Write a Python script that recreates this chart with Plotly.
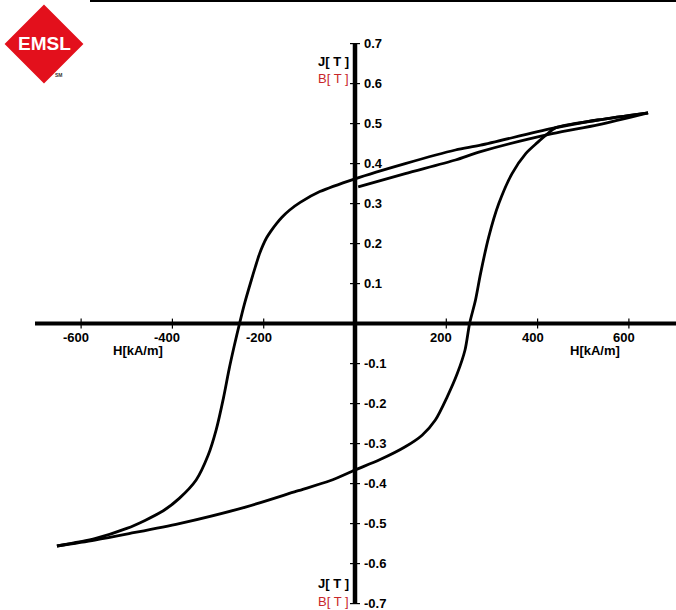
import plotly.graph_objects as go

# ---- data ----
H_initial = [7, 110, 220, 275, 432, 532, 642]
J_initial = [0.342, 0.375, 0.409, 0.430, 0.475, 0.497, 0.527]

H_desc = [642, 532, 432, 275, 220, 110, 0, -77, -120, -143, -160, -172, -185, -194, -202, -209, -218, -227,
          -242, -253, -265, -276, -288, -304, -322, -348, -385, -420, -460, -500, -568, -653]
J_desc = [0.527, 0.509, 0.488, 0.446, 0.434, 0.400, 0.362, 0.330, 0.303, 0.284, 0.266, 0.250, 0.230, 0.214,
          0.195, 0.175, 0.143, 0.109, 0.050, 0.0, -0.058, -0.115, -0.185, -0.265, -0.330, -0.391, -0.437,
          -0.468, -0.492, -0.512, -0.537, -0.556]

H_asc = [-653, -570, -495, -385, -238, -128, -55, 0, 55, 110, 147, 176, 202, 224, 241, 251,
         264, 275, 293, 315, 344, 374, 400, 420, 440, 532, 642]
J_asc = [-0.556, -0.541, -0.525, -0.500, -0.458, -0.419, -0.393, -0.366, -0.340, -0.308, -0.279, -0.241,
         -0.183, -0.125, -0.066, 0.0, 0.059, 0.125, 0.217, 0.300, 0.375, 0.425, 0.453, 0.473, 0.490, 0.509, 0.527]

x_ticks = [-600, -400, -200, 200, 400, 600]
x_tick_labels = ["-600", "-400", "-200", "200", "400", "600"]
y_ticks = [0.7, 0.6, 0.5, 0.4, 0.3, 0.2, 0.1, -0.1, -0.2, -0.3, -0.4, -0.5, -0.6, -0.7]
y_tick_labels = ["0.7", "0.6", "0.5", "0.4", "0.3", "0.2", "0.1",
                 "-0.1", "-0.2", "-0.3", "-0.4", "-0.5", "-0.6", "-0.7"]

W, Hgt = 676, 610
XMIN, XMAX = -777.7, 703.2
YMIN, YMAX = -0.716, 0.809
px_per_x = W / (XMAX - XMIN)
px_per_y = Hgt / (YMAX - YMIN)

FONT = "Arial, Liberation Sans, sans-serif"

fig = go.Figure()
for hx, jy in [(H_initial, J_initial), (H_desc, J_desc), (H_asc, J_asc)]:
    fig.add_trace(go.Scatter(x=hx, y=jy, mode="lines",
                             line=dict(color="black", width=2.8, shape="spline", smoothing=0.8),
                             hoverinfo="skip", showlegend=False))

shapes = []
# axes
shapes.append(dict(type="line", xref="x", yref="y", x0=-701, x1=XMAX, y0=0, y1=0,
                   line=dict(color="black", width=4)))
shapes.append(dict(type="line", xref="x", yref="y", x0=0, x1=0, y0=-0.7, y1=0.7,
                   line=dict(color="black", width=4.5)))
# ticks
tx = 5 / px_per_x
ty = 5 / px_per_y
for v in x_ticks:
    shapes.append(dict(type="line", xref="x", yref="y", x0=v, x1=v, y0=-ty, y1=ty,
                       line=dict(color="black", width=1.2)))
for v in y_ticks:
    shapes.append(dict(type="line", xref="x", yref="y", x0=-tx, x1=tx, y0=v, y1=v,
                       line=dict(color="black", width=1.2)))
# top rule
shapes.append(dict(type="line", xref="paper", yref="paper", x0=90 / W, x1=1,
                   y0=1 - 1 / Hgt, y1=1 - 1 / Hgt, line=dict(color="black", width=2)))

# logo diamond (paper coords)
def P(px, py):
    return f"{px / W:.5f},{1 - py / Hgt:.5f}"
cx, cy, r = 44, 44, 38
path = f"M {P(cx, cy - r)} L {P(cx + r, cy)} L {P(cx, cy + r)} L {P(cx - r, cy)} Z"
shapes.append(dict(type="path", xref="paper", yref="paper", path=path,
                   fillcolor="#e3101c", line=dict(color="#e3101c", width=2)))

annotations = []
for v, t in zip(x_ticks, x_tick_labels):
    annotations.append(dict(x=v, y=0, xref="x", yref="y", text=t, showarrow=False,
                            xanchor="center", yanchor="middle", xshift=-5, yshift=-14,
                            font=dict(family=FONT, size=13, color="black", weight="bold")))
for v, t in zip(y_ticks, y_tick_labels):
    annotations.append(dict(x=0, y=v, xref="x", yref="y", text=t, showarrow=False,
                            xanchor="left", yanchor="middle", xshift=7,
                            font=dict(family=FONT, size=13, color="black", weight="bold")))

for hx in [138, 595]:
    annotations.append(dict(x=hx / W, y=1 - 351 / Hgt, xref="paper", yref="paper",
                            text="H[kA/m]", showarrow=False, xanchor="center", yanchor="middle",
                            font=dict(family=FONT, size=13, color="black", weight="bold")))
for jy, by in [(62, 79), (583, 601)]:
    annotations.append(dict(x=351 / W, y=1 - jy / Hgt, xref="paper", yref="paper",
                            text="J[ T ]", showarrow=False, xanchor="right", yanchor="middle",
                            font=dict(family=FONT, size=13, color="black", weight="bold")))
    annotations.append(dict(x=351 / W, y=1 - by / Hgt, xref="paper", yref="paper",
                            text="B[ T ]", showarrow=False, xanchor="right", yanchor="middle",
                            font=dict(family=FONT, size=13, color="#c8262a")))

# logo text
annotations.append(dict(x=44 / W, y=1 - 43 / Hgt, xref="paper", yref="paper", text="EMSL",
                        showarrow=False, xanchor="center", yanchor="middle",
                        font=dict(family=FONT, size=19, color="white", weight="bold")))
annotations.append(dict(x=59 / W, y=1 - 75 / Hgt, xref="paper", yref="paper", text="SM",
                        showarrow=False, xanchor="center", yanchor="middle",
                        font=dict(family=FONT, size=5, color="#333333", weight="bold")))

fig.update_layout(
    width=W, height=Hgt,
    margin=dict(l=0, r=0, t=0, b=0),
    paper_bgcolor="white", plot_bgcolor="white",
    xaxis=dict(range=[XMIN, XMAX], visible=False, fixedrange=True),
    yaxis=dict(range=[YMIN, YMAX], visible=False, fixedrange=True),
    shapes=shapes, annotations=annotations, showlegend=False,
)

fig.write_html("out.html", config={"displayModeBar": False},
               post_script="document.body.style.margin='0';document.body.style.overflow='hidden';")
